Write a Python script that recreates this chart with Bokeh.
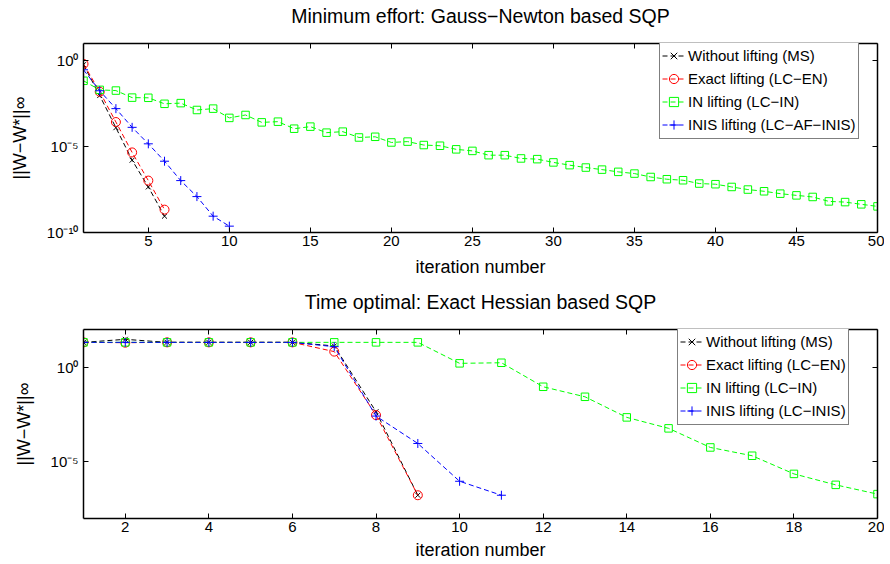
from bokeh.plotting import figure
from bokeh.models import (FixedTicker, LinearAxis, LogAxis, Range1d, Title,
                          BasicTickFormatter, CustomJSTickFormatter)
from bokeh.layouts import column
from bokeh.embed import file_html
from bokeh.resources import INLINE

FONT = "Liberation Sans"

# ---------------- texts ----------------
top_title = "Minimum effort: Gauss\u2212Newton based SQP"
bottom_title = "Time optimal: Exact Hessian based SQP"
x_label = "iteration number"
y_label = "||W\u2212W*||\u221e"
top_legend = ["Without lifting (MS)", "Exact lifting (LC\u2212EN)",
              "IN lifting (LC\u2212IN)", "INIS lifting (LC\u2212AF\u2212INIS)"]
bottom_legend = ["Without lifting (MS)", "Exact lifting (LC\u2212EN)",
                 "IN lifting (LC\u2212IN)", "INIS lifting (LC\u2212INIS)"]

# ---------------- ticks ----------------
top_x_ticks = [5, 10, 15, 20, 25, 30, 35, 40, 45, 50]
top_y_ticks = [1e-10, 1e-5, 1e0]
bottom_x_ticks = [2, 4, 6, 8, 10, 12, 14, 16, 18, 20]
bottom_y_ticks = [1e-5, 1e0]

# ---------------- top panel data ----------------
top_iter_ms = [1, 2, 3, 4, 5, 6]
top_err_ms = [0.589, 9.33e-3, 1.26e-4, 1.62e-6, 4.47e-8, 8.91e-10]

top_iter_en = [1, 2, 3, 4, 5, 6]
top_err_en = [0.646, 1.55e-2, 2.69e-4, 4.57e-6, 1.05e-7, 2.14e-9]

top_iter_in = list(range(1, 51))
top_err_in = [6.76e-2, 2.00e-2, 1.82e-2, 7.08e-3, 6.92e-3, 3.09e-3, 3.39e-3, 1.35e-3, 1.62e-3, 4.68e-4,
              6.92e-4, 2.57e-4, 2.82e-4, 1.10e-4, 1.45e-4, 6.46e-5, 7.41e-5, 3.39e-5, 3.72e-5, 1.74e-5,
              1.95e-5, 1.23e-5, 1.12e-5, 6.92e-6, 5.62e-6, 3.16e-6, 3.16e-6, 2.04e-6, 1.86e-6, 1.20e-6,
              8.32e-7, 6.03e-7, 4.57e-7, 3.39e-7, 2.69e-7, 1.70e-7, 1.26e-7, 1.10e-7, 7.08e-8, 6.46e-8,
              4.47e-8, 3.16e-8, 2.51e-8, 1.82e-8, 1.45e-8, 1.17e-8, 6.46e-9, 5.89e-9, 4.37e-9, 3.31e-9]

top_iter_inis = [1, 2, 3, 4, 5, 6, 7, 8, 9, 10]
top_err_inis = [0.295, 1.78e-2, 1.62e-3, 1.32e-4, 1.45e-5, 1.41e-6, 1.05e-7, 1.23e-8, 8.91e-10, 2.34e-10]

# ---------------- bottom panel data ----------------
bot_iter_ms = [1, 2, 3, 4, 5, 6, 7, 8, 9]
bot_err_ms = [20.9, 30.2, 20.9, 20.9, 20.9, 20.9, 13.5, 4.47e-3, 1.70e-7]

bot_iter_en = [1, 2, 3, 4, 5, 6, 7, 8, 9]
bot_err_en = [20.9, 20.0, 20.9, 20.9, 20.9, 20.9, 6.76, 2.95e-3, 1.70e-7]

bot_iter_in = list(range(1, 21))
bot_err_in = [20.9, 20.9, 20.9, 20.9, 20.9, 20.9, 20.9, 20.9, 20.9, 1.62,
              1.74, 9.33e-2, 2.75e-2, 2.24e-3, 5.89e-4, 5.75e-5, 2.09e-5, 2.29e-6, 6.03e-7, 1.95e-7]

bot_iter_inis = [1, 2, 3, 4, 5, 6, 7, 8, 9, 10, 11]
bot_err_inis = [20.9, 20.9, 20.9, 20.9, 20.9, 20.9, 12.3, 2.63e-3, 9.33e-5, 9.33e-7, 1.70e-7]

# ---------------- styles ----------------
STYLES = [
    dict(color="#000000", marker="x", size=7),
    dict(color="#ff0000", marker="circle", size=9),
    dict(color="#00ff00", marker="square", size=7.5),
    dict(color="#0000ff", marker="cross", size=9),
]
FRAME_W, FRAME_H = 794, 189

POW10 = CustomJSTickFormatter(code="""
const sup = {"0":"\u2070","1":"\u00b9","2":"\u00b2","3":"\u00b3","4":"\u2074",
             "5":"\u2075","6":"\u2076","7":"\u2077","8":"\u2078","9":"\u2079","-":"\u207b"};
const e = Math.round(Math.log10(tick));
return "10" + String(e).split("").map(c => sup[c]).join("");
""")


def style_axis(ax, show_labels):
    ax.major_tick_in = 5
    ax.major_tick_out = 0
    ax.minor_tick_in = 0
    ax.minor_tick_out = 0
    ax.major_tick_line_color = "black"
    ax.major_tick_line_width = 1
    ax.axis_line_color = "black"
    ax.axis_line_width = 1.5
    if show_labels:
        ax.major_label_text_font = FONT
        ax.major_label_text_font_size = "15px"
        ax.major_label_text_color = "black"
        ax.major_label_standoff = 3
        ax.axis_label_text_font = FONT
        ax.axis_label_text_font_size = "18px"
        ax.axis_label_text_font_style = "normal"
        ax.axis_label_text_color = "black"
    else:
        ax.formatter = BasicTickFormatter()
        ax.major_label_text_font_size = "1px"
        ax.major_label_text_color = None
        ax.major_label_standoff = 0


def build(title, x_end, y_lo, y_hi, x_ticks, y_ticks, series, names,
          border_top, border_bottom, legend_xy, title_gap_font, xlabel_standoff):
    p = figure(frame_width=FRAME_W, frame_height=FRAME_H,
               min_border_left=83, min_border_right=7,
               min_border_top=border_top, min_border_bottom=border_bottom,
               x_range=Range1d(1, x_end), y_range=Range1d(y_lo, y_hi),
               y_axis_type="log", output_backend="svg", toolbar_location=None)
    p.xgrid.visible = False
    p.ygrid.visible = False
    p.outline_line_color = None
    p.background_fill_color = "white"
    p.border_fill_color = "white"

    xa = p.xaxis[0]
    ya = p.yaxis[0]
    xa.ticker = FixedTicker(ticks=x_ticks, minor_ticks=[])
    ya.ticker = FixedTicker(ticks=y_ticks, minor_ticks=[])
    style_axis(xa, True)
    style_axis(ya, True)
    ya.formatter = POW10
    ya.major_label_standoff = 5
    xa.axis_label = x_label
    xa.axis_label_standoff = xlabel_standoff
    ya.axis_label = y_label
    ya.axis_label_standoff = 14

    # mirrored (box) axes
    top_ax = LinearAxis(ticker=FixedTicker(ticks=x_ticks, minor_ticks=[]))
    style_axis(top_ax, False)
    p.add_layout(top_ax, "above")
    right_ax = LogAxis(ticker=FixedTicker(ticks=y_ticks, minor_ticks=[]))
    style_axis(right_ax, False)
    p.add_layout(right_ax, "right")

    # blank spacer line between the frame and the title
    p.add_layout(Title(text="\u00a0", standoff=0, text_font=FONT,
                       text_font_size=title_gap_font, text_color="white"), "above")
    p.add_layout(Title(text=title, align="center", offset=10, standoff=0,
                       text_font=FONT, text_font_size="19.5px",
                       text_font_style="normal", text_color="black"), "above")

    for (xs, ys), name, st in zip(series, names, STYLES):
        p.line(xs, ys, line_color=st["color"], line_width=1, line_dash="5 3",
               legend_label=name)
        p.scatter(xs, ys, marker=st["marker"], size=st["size"],
                  line_color=st["color"], fill_color=None, line_width=1,
                  legend_label=name)

    lg = p.legend[0]
    lg.location = legend_xy
    lg.padding = 2
    lg.spacing = 0
    lg.margin = 0
    lg.label_height = 23
    lg.glyph_height = 23
    lg.glyph_width = 23
    lg.label_standoff = 3
    lg.label_text_font = FONT
    lg.label_text_font_size = "15px"
    lg.label_text_color = "black"
    lg.border_line_color = "black"
    lg.border_line_width = 1
    lg.background_fill_color = "white"
    lg.background_fill_alpha = 1.0
    return p


p1 = build(top_title, 50, 1e-10, 1e1, top_x_ticks, top_y_ticks,
           [(top_iter_ms, top_err_ms), (top_iter_en, top_err_en),
            (top_iter_in, top_err_in), (top_iter_inis, top_err_inis)],
           top_legend, 43, 53, (576, 93), "13.5px", 8)

p2 = build(bottom_title, 20, 1e-8, 1e2, bottom_x_ticks, bottom_y_ticks,
           [(bot_iter_ms, bot_err_ms), (bot_iter_en, bot_err_en),
            (bot_iter_in, bot_err_in), (bot_iter_inis, bot_err_inis)],
           bottom_legend, 44, 45, (594, 93), "13px", 5)

layout = column(p1, p2)
open("out.html", "w").write(file_html(layout, INLINE))
